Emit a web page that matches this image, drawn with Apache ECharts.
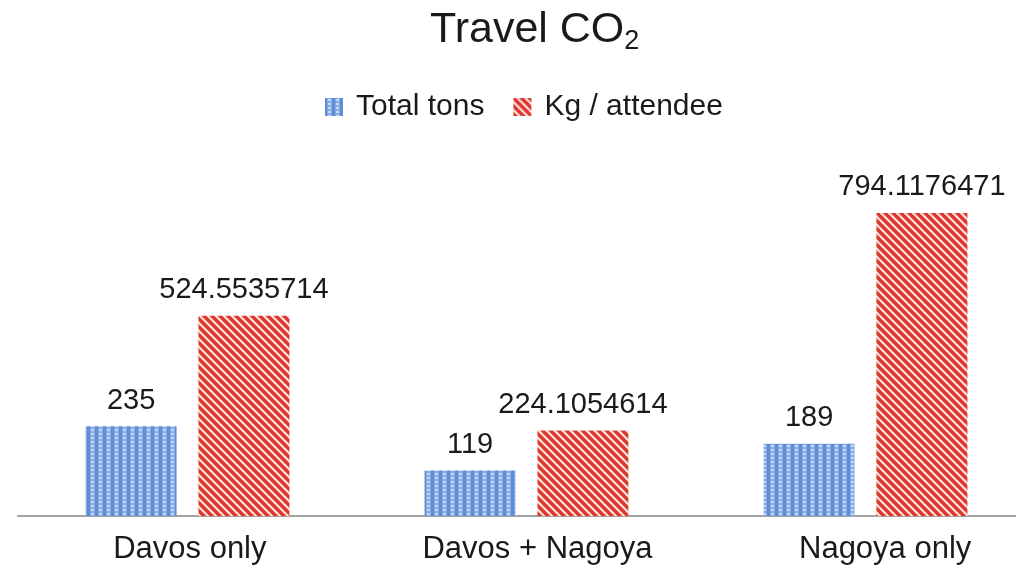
<!DOCTYPE html>
<html>
<head>
<meta charset="utf-8">
<script src="https://cdn.jsdelivr.net/npm/echarts@6/dist/echarts.min.js"></script>
<style>
  html, body { margin: 0; padding: 0; background: #fff; }
  #chart { width: 1016px; height: 569px; }
</style>
</head>
<body>
<div id="chart"></div>
<script>
// Travel CO2 per scenario
const categories = ['Davos only', 'Davos + Nagoya', 'Nagoya only'];
const totalTons = [235, 119, 189];
const kgPerAttendee = [524.5535714, 224.1054614, 794.1176471];
const seriesNames = ['Total tons', 'Kg / attendee'];

// Dotted blue fill
function dotPattern() {
  const c = document.createElement('canvas');
  c.width = 8; c.height = 4;
  const g = c.getContext('2d');
  g.fillStyle = '#5d8dd7';
  g.fillRect(0, 0, 8, 4);
  g.fillStyle = '#86abe4';
  g.fillRect(2, 0, 5, 4);
  g.fillStyle = '#c4d8f3';
  g.fillRect(3, 1, 3, 2);
  return c;
}

// Diagonal red hatching
function hatchPattern() {
  const c = document.createElement('canvas');
  c.width = 8; c.height = 8;
  const g = c.getContext('2d');
  g.fillStyle = '#fbe3de';
  g.fillRect(0, 0, 8, 8);
  g.strokeStyle = '#e0362c';
  g.lineWidth = 3.4;
  for (let x = -8; x <= 8; x += 8) {
    g.beginPath();
    g.moveTo(x - 1, -1);
    g.lineTo(x + 9, 9);
    g.stroke();
  }
  return c;
}

const FONT = '"Liberation Sans", Arial, Helvetica, sans-serif';
const chart = echarts.init(document.getElementById('chart'));

chart.setOption({
  backgroundColor: '#ffffff',
  animation: false,
  title: {
    text: '{a|Travel CO}{b|2}',
    left: 430,
    top: 5,
    padding: 0,
    textStyle: {
      rich: {
        a: { fontFamily: FONT, fontSize: 43, fontWeight: 'normal', color: '#1a1a1a', lineHeight: 50 },
        b: { fontFamily: FONT, fontSize: 27, fontWeight: 'normal', color: '#1a1a1a', lineHeight: 20, verticalAlign: 'bottom' }
      }
    }
  },
  legend: {
    data: seriesNames,
    left: 325,
    top: 92,
    padding: 0,
    itemWidth: 18,
    itemHeight: 18,
    itemGap: 29,
    icon: 'rect',
    textStyle: {
      fontFamily: FONT,
      fontSize: 30,
      color: '#1a1a1a',
      lineHeight: 30,
      padding: [0, 0, 0, 8]
    }
  },
  grid: [
    // plot area for the bars
    { left: 18, width: 1017, top: 172.5, height: 343.5, outerBoundsMode: 'none', containLabel: false },
    // slightly wider band used for the category captions
    { left: 16, width: 1043, top: 172.5, height: 343.5, outerBoundsMode: 'none', containLabel: false }
  ],
  xAxis: [
    {
      type: 'category',
      gridIndex: 0,
      data: categories,
      axisLine: { show: true, lineStyle: { color: '#a3a3a3', width: 2 } },
      axisTick: { show: false },
      axisLabel: { show: false }
    },
    {
      type: 'category',
      gridIndex: 1,
      data: categories,
      axisLine: { show: false },
      axisTick: { show: false },
      axisLabel: { margin: 18, fontFamily: FONT, fontSize: 31, color: '#1a1a1a' }
    }
  ],
  yAxis: [
    { type: 'value', gridIndex: 0, min: 0, max: 900, show: false, splitLine: { show: false } },
    { type: 'value', gridIndex: 1, min: 0, max: 900, show: false, splitLine: { show: false } }
  ],
  series: [
    {
      name: seriesNames[0],
      type: 'bar',
      data: totalTons,
      barWidth: 91,
      barGap: '24%',
      itemStyle: { color: { image: dotPattern(), repeat: 'repeat' } },
      label: {
        show: true, position: 'top', distance: 11,
        fontFamily: FONT, fontSize: 29, color: '#1a1a1a'
      }
    },
    {
      name: seriesNames[1],
      type: 'bar',
      data: kgPerAttendee,
      barWidth: 91,
      itemStyle: { color: { image: hatchPattern(), repeat: 'repeat' } },
      label: {
        show: true, position: 'top', distance: 11,
        fontFamily: FONT, fontSize: 29, color: '#1a1a1a',
        formatter: p => String(p.value)
      }
    }
  ]
});
</script>
</body>
</html>
